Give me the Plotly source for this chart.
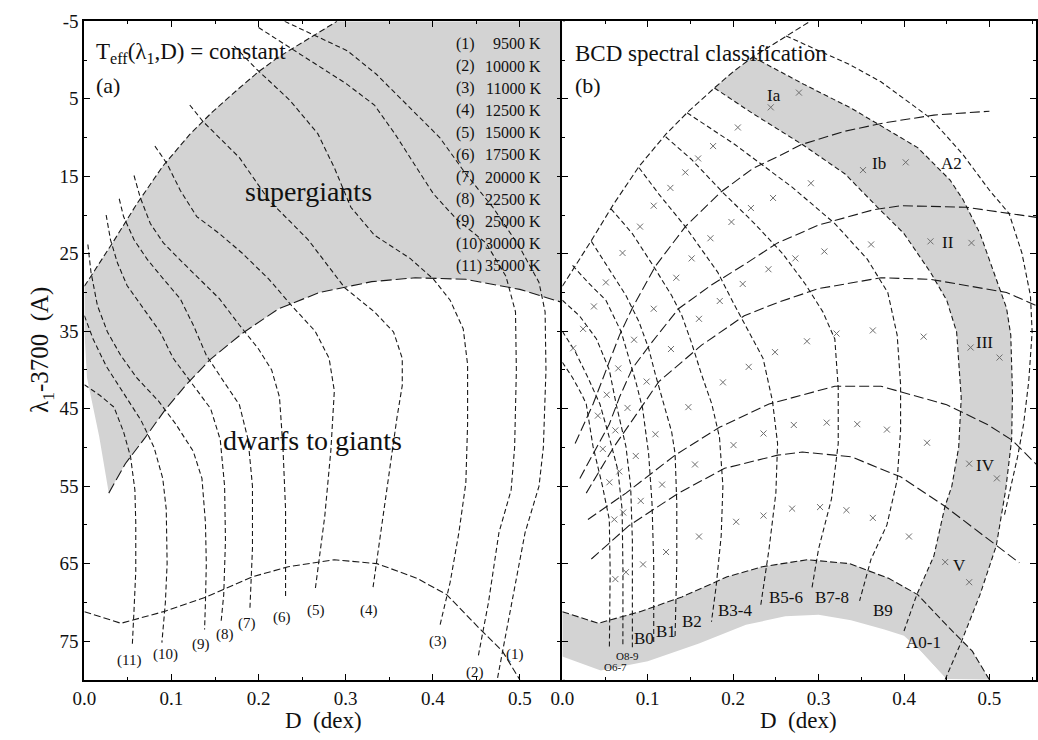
import plotly.graph_objects as go

FONT = "Liberation Serif, Times New Roman, DejaVu Serif, serif"
INK = "#1a1a1a"
GRAY_FILL = "#d3d3d3"

# ---------------- shared curves (D in dex, lambda_1-3700 in A) ----------------
ENV_D = [0.0, 0.034, 0.06, 0.09, 0.121, 0.146, 0.178, 0.2, 0.223, 0.26, 0.29]
ENV_L = [29.2, 23.3, 18.6, 13.7, 9.6, 6.8, 3.6, 1.5, -0.4, -3.0, -5.0]

ZAMS_D = [0.0, 0.042, 0.091, 0.14, 0.193, 0.234, 0.287, 0.336, 0.382, 0.416, 0.453, 0.48, 0.5]
ZAMS_L = [71.2, 72.7, 71.2, 69.3, 66.7, 65.4, 64.5, 65.0, 66.9, 69.0, 73.3, 76.3, 80.0]

# ---------------- panel (a) ----------------
SG_LOW_D = [0.028, 0.047, 0.07, 0.093, 0.117, 0.144, 0.181, 0.223, 0.27, 0.33, 0.38, 0.438, 0.5, 0.549]
SG_LOW_L = [55.9, 52.1, 48.7, 45.1, 41.9, 38.7, 35.3, 32.1, 30.0, 28.6, 28.1, 28.3, 29.6, 31.3]
SG_EDGE_D = [0.028, 0.017, 0.003, 0.0]
SG_EDGE_L = [55.9, 48.6, 41.0, 35.0]

C1_D = [0.23, 0.257, 0.302, 0.335, 0.371, 0.408, 0.438, 0.469, 0.499, 0.522, 0.529, 0.53, 0.527, 0.522, 0.506, 0.488, 0.474]
C1_L = [-5.0, -3.6, -1.2, 1.8, 5.8, 10.0, 14.7, 19.0, 24.0, 28.7, 32.5, 40.0, 50.0, 55.0, 61.0, 71.6, 80.0]
C2_D = [0.2, 0.242, 0.272, 0.3, 0.333, 0.357, 0.382, 0.401, 0.427, 0.461, 0.484, 0.495, 0.496, 0.494, 0.49, 0.476, 0.464, 0.452]
C2_L = [-4.2, -1.2, 1.0, 3.0, 5.8, 9.6, 14.0, 17.3, 20.5, 23.6, 27.9, 32.5, 40.0, 50.0, 55.5, 61.0, 70.0, 77.1]
C3_D = [0.172, 0.197, 0.236, 0.268, 0.287, 0.306, 0.333, 0.374, 0.401, 0.42, 0.435, 0.44, 0.44, 0.438, 0.43, 0.42, 0.408]
C3_L = [-1.8, 1.1, 5.2, 9.5, 13.9, 19.0, 22.6, 25.6, 28.3, 31.0, 34.7, 39.3, 47.0, 54.6, 61.0, 67.4, 73.1]
C4_D = [0.121, 0.136, 0.178, 0.212, 0.257, 0.299, 0.333, 0.355, 0.365, 0.365, 0.359, 0.348, 0.34, 0.331]
C4_L = [5.8, 7.9, 12.6, 18.1, 23.2, 29.4, 32.5, 35.1, 38.5, 42.0, 46.1, 54.6, 61.0, 68.4]
C5_D = [0.081, 0.095, 0.11, 0.129, 0.155, 0.181, 0.212, 0.238, 0.265, 0.281, 0.287, 0.283, 0.276, 0.265]
C5_L = [11.1, 13.4, 16.8, 20.2, 22.4, 24.9, 28.3, 31.7, 35.0, 38.5, 42.7, 50.4, 58.9, 68.4]
C6_D = [0.057, 0.064, 0.0757, 0.0907, 0.109, 0.132, 0.155, 0.178, 0.2, 0.215, 0.224, 0.228, 0.231, 0.231]
C6_L = [14.9, 17.7, 21.1, 23.6, 25.7, 28.3, 30.8, 34.2, 37.3, 40.0, 43.5, 50.0, 58.0, 69.3]
C7_D = [0.04, 0.045, 0.057, 0.072, 0.091, 0.11, 0.125, 0.14, 0.16, 0.178, 0.188, 0.193, 0.193, 0.19]
C7_L = [17.9, 20.2, 23.2, 25.7, 28.3, 30.8, 34.2, 38.1, 41.5, 44.5, 49.0, 55.0, 63.0, 71.0]
C8_D = [0.025, 0.03, 0.038, 0.049, 0.068, 0.087, 0.102, 0.125, 0.145, 0.156, 0.161, 0.162, 0.16, 0.157]
C8_L = [20.0, 23.2, 26.2, 29.1, 32.1, 35.1, 38.5, 42.0, 45.0, 49.0, 55.0, 62.0, 69.0, 72.5]
C9_D = [0.004, 0.0076, 0.015, 0.0265, 0.0416, 0.06, 0.085, 0.105, 0.125, 0.135, 0.139, 0.14, 0.139, 0.138]
C9_L = [23.8, 27.4, 31.7, 35.1, 38.1, 41.0, 44.0, 47.0, 50.5, 54.0, 59.7, 65.0, 70.0, 73.5]
C10_D = [0.0, 0.01, 0.025, 0.045, 0.065, 0.08, 0.09, 0.094, 0.095, 0.093, 0.089]
C10_L = [33.0, 36.0, 39.5, 43.0, 46.5, 50.0, 54.0, 58.0, 65.0, 70.0, 75.2]
C11_D = [0.0, 0.018, 0.034, 0.045, 0.053, 0.058, 0.059, 0.059, 0.057, 0.055]
C11_L = [41.9, 43.3, 44.8, 48.0, 51.2, 55.5, 59.7, 66.0, 71.0, 75.6]

TEFF_TAGS = ["(1)", "(2)", "(3)", "(4)", "(5)", "(6)", "(7)", "(8)", "(9)", "(10)", "(11)"]
TEFF_TAG_D = [0.495, 0.448, 0.406, 0.327, 0.266, 0.227, 0.187, 0.161, 0.134, 0.093, 0.051]
TEFF_TAG_L = [76.7, 79.0, 75.0, 71.0, 71.0, 72.0, 72.7, 74.2, 75.4, 76.7, 77.5]
TEFF_VALUES = ["9500 K", "10000 K", "11000 K", "12500 K", "15000 K", "17500 K",
               "20000 K", "22500 K", "25000 K", "30000 K", "35000 K"]

# ---------------- panel (b) ----------------
BAND_LOW_D = [0.0, 0.045, 0.1, 0.16, 0.215, 0.261, 0.3, 0.338, 0.377, 0.4, 0.42, 0.45]
BAND_LOW_L = [77.0, 78.8, 77.6, 75.3, 72.9, 71.8, 71.6, 72.3, 73.5, 74.3, 76.3, 79.9]

S1_D = [0.0, 0.012, 0.022, 0.028, 0.036, 0.047, 0.055, 0.056, 0.0551]
S1_L = [39.0, 41.0, 43.0, 44.4, 49.9, 55.0, 59.3, 66.0, 75.8]
S2_D = [0.0, 0.015, 0.03, 0.044, 0.055, 0.065, 0.07, 0.071, 0.0709]
S2_L = [35.0, 37.6, 41.0, 44.4, 48.7, 52.9, 58.0, 66.0, 75.8]
S3_D = [0.0, 0.02, 0.04, 0.055, 0.063, 0.0745, 0.08, 0.082, 0.082]
S3_L = [31.0, 33.0, 36.0, 40.0, 44.4, 49.9, 55.0, 62.0, 75.8]
S4_D = [0.012, 0.03, 0.051, 0.069, 0.086, 0.094, 0.101, 0.105, 0.107, 0.107]
S4_L = [26.5, 28.7, 31.0, 35.1, 41.5, 45.0, 50.8, 57.2, 65.0, 75.5]
S5_D = [0.034, 0.055, 0.0745, 0.0898, 0.101, 0.109, 0.12, 0.128, 0.132, 0.134, 0.134, 0.132]
S5_L = [23.4, 27.0, 30.4, 33.8, 37.2, 40.6, 45.0, 48.0, 50.8, 57.2, 65.0, 74.4]
S6_D = [0.057, 0.082, 0.109, 0.128, 0.14, 0.151, 0.163, 0.175, 0.184, 0.188, 0.186, 0.18, 0.1746]
S6_L = [19.2, 22.4, 27.0, 30.4, 33.0, 36.4, 40.6, 44.4, 48.7, 55.0, 61.4, 68.0, 72.5]
S7_D = [0.0898, 0.113, 0.144, 0.163, 0.182, 0.2, 0.217, 0.235, 0.246, 0.252, 0.25, 0.242, 0.232]
S7_L = [13.9, 17.3, 21.5, 24.5, 27.4, 31.3, 34.7, 38.5, 44.0, 49.5, 55.9, 63.1, 70.6]
S8_D = [0.121, 0.151, 0.188, 0.225, 0.258, 0.285, 0.305, 0.319, 0.323, 0.323, 0.315, 0.3, 0.292]
S8_L = [9.9, 12.8, 17.1, 21.1, 25.0, 29.0, 32.5, 36.0, 42.3, 49.5, 56.7, 63.1, 68.3]
S9_D = [0.146, 0.202, 0.269, 0.319, 0.357, 0.381, 0.392, 0.396, 0.396, 0.392, 0.38, 0.3615, 0.348]
S9_L = [6.8, 10.9, 16.4, 21.1, 25.7, 30.0, 35.5, 41.9, 47.8, 54.2, 60.0, 64.4, 69.8]
S10_D = [0.178, 0.223, 0.281, 0.331, 0.369, 0.4, 0.431, 0.45, 0.4616, 0.467, 0.464, 0.456, 0.448, 0.435, 0.415, 0.4]
S10_L = [3.6, 6.9, 10.9, 14.7, 19.0, 22.4, 27.4, 31.0, 35.1, 43.6, 50.0, 55.0, 57.6, 64.0, 69.0, 73.7]
S11_D = [0.223, 0.284, 0.338, 0.377, 0.416, 0.454, 0.469, 0.489, 0.508, 0.52, 0.525, 0.527, 0.526, 0.519, 0.508, 0.489, 0.4675, 0.45, 0.448]
S11_L = [-0.4, 3.2, 6.2, 8.8, 11.3, 15.5, 18.0, 22.4, 28.3, 32.0, 35.5, 43.0, 49.0, 55.5, 62.7, 69.0, 75.0, 79.7, 80.0]
A2_D = [0.262, 0.3, 0.335, 0.373, 0.431, 0.469, 0.5, 0.523, 0.538, 0.548, 0.55, 0.546, 0.54, 0.533, 0.523, 0.517]
A2_L = [-3.1, -1.2, 0.5, 2.8, 7.5, 12.2, 16.8, 19.8, 24.9, 30.4, 35.1, 41.5, 47.0, 51.2, 56.3, 59.0]

LUM1_D = [0.015, 0.036, 0.067, 0.082, 0.109, 0.144, 0.186, 0.223, 0.2515, 0.28, 0.33, 0.377, 0.435, 0.5]
LUM1_L = [49.5, 44.4, 35.5, 32.0, 26.6, 21.5, 17.0, 14.0, 12.5, 10.9, 9.2, 8.1, 7.1, 6.6]
LUM2_D = [0.0205, 0.055, 0.067, 0.082, 0.105, 0.136, 0.175, 0.213, 0.252, 0.3, 0.365, 0.397, 0.473, 0.555]
LUM2_L = [54.0, 47.0, 43.5, 39.8, 36.4, 32.1, 29.0, 26.4, 23.6, 21.3, 19.3, 18.8, 19.0, 20.3]
LUM3_D = [0.028, 0.06, 0.0976, 0.113, 0.163, 0.213, 0.252, 0.3, 0.373, 0.431, 0.52, 0.555]
LUM3_L = [55.9, 50.0, 44.0, 41.5, 36.8, 33.0, 31.3, 29.5, 28.1, 28.3, 30.0, 31.7]
LUM4_D = [0.03, 0.0745, 0.132, 0.184, 0.242, 0.319, 0.373, 0.45, 0.497, 0.527, 0.555]
LUM4_L = [59.3, 55.9, 51.0, 47.4, 44.4, 42.1, 42.1, 44.5, 47.0, 49.1, 52.2]
LUM5_D = [0.034, 0.078, 0.136, 0.19, 0.252, 0.281, 0.338, 0.396, 0.448, 0.508, 0.535]
LUM5_L = [64.4, 60.1, 55.9, 52.7, 51.0, 50.6, 51.2, 53.8, 57.6, 62.7, 64.9]

CROSS_D = [0.277, 0.244, 0.2055, 0.1765, 0.159, 0.144, 0.1265, 0.107, 0.091, 0.0705, 0.051, 0.037, 0.0243, 0.0127,
           0.352, 0.402, 0.291, 0.2467, 0.2208, 0.198, 0.1734, 0.1514, 0.1334, 0.107, 0.084,
           0.3615, 0.431, 0.479, 0.3068, 0.2728, 0.2413, 0.2112, 0.1843, 0.16, 0.1272,
           0.321, 0.2864, 0.3635, 0.423, 0.478,
           0.249, 0.5118, 0.0655, 0.052, 0.0416, 0.0763, 0.0987, 0.1476, 0.188, 0.2182,
           0.0621, 0.0474, 0.086, 0.109, 0.0667, 0.0551, 0.1168, 0.0918, 0.0609, 0.0713,
           0.1553, 0.2004, 0.2355, 0.271, 0.3095, 0.3453, 0.38, 0.427, 0.4763, 0.5087,
           0.2035, 0.2355, 0.269, 0.3017, 0.3326, 0.3635, 0.4058, 0.16, 0.1214, 0.0945,
           0.0745, 0.0621, 0.4482, 0.4763]
CROSS_L = [4.2, 6.1, 8.7, 11.1, 12.7, 14.5, 16.5, 18.8, 21.5, 24.9, 28.7, 31.8, 34.7, 37.2,
           14.2, 13.2, 15.9, 17.8, 19.1, 20.9, 23.0, 25.6, 28.1, 32.1, 36.1,
           23.8, 23.4, 23.6, 24.7, 25.6, 27.0, 28.9, 31.1, 33.4, 37.3,
           35.3, 36.3, 34.9, 35.7, 37.1,
           37.7, 38.4, 39.8, 43.2, 45.9, 44.9, 41.5, 44.8, 41.6, 39.6,
           47.8, 50.2, 51.1, 48.3, 53.1, 54.5, 54.8, 56.9, 59.3, 58.4,
           52.2, 49.7, 48.2, 47.1, 46.8, 47.0, 47.7, 49.4, 52.1, 54.0,
           59.6, 58.8, 57.9, 57.7, 58.1, 59.1, 61.5, 61.5, 63.5, 65.1,
           66.1, 67.0, 64.8, 67.4]

CLASS_TEXT = ["Ia", "Ib", "A2", "II", "III", "IV", "V", "B9", "A0-1", "B7-8", "B5-6", "B3-4", "B2", "B1", "B0"]
CLASS_D = [0.2479, 0.3711, 0.4559, 0.452, 0.4944, 0.4955, 0.4655, 0.375, 0.423, 0.3152, 0.2613, 0.2028, 0.1515, 0.1214, 0.0956]
CLASS_L = [4.6, 13.3, 13.4, 23.6, 36.4, 52.3, 65.2, 71.0, 75.2, 69.4, 69.4, 71.0, 72.5, 73.7, 74.7]
OCLASS_TEXT = ["O8-9", "O6-7"]
OCLASS_D = [0.0763, 0.0621]
OCLASS_L = [76.9, 78.4]

Y_TICKS = [-5, 5, 15, 25, 35, 45, 55, 65, 75]
Y_MINOR = [0, 10, 20, 30, 40, 50, 60, 70, 80]
X_TICKS = [0.0, 0.1, 0.2, 0.3, 0.4, 0.5]
X_MINOR = [0.05, 0.15, 0.25, 0.35, 0.45, 0.55]

W, H = 1038, 740
fig = go.Figure()


def add_line(d, l, panel, dash="5px,3px", width=1.1, color=INK):
    fig.add_trace(go.Scatter(x=d, y=l, mode="lines", xaxis="x" if panel == 1 else "x2",
                             yaxis="y" if panel == 1 else "y2",
                             line=dict(color=color, width=width, dash=dash),
                             hoverinfo="skip", showlegend=False))


def add_fill(d, l, panel):
    fig.add_trace(go.Scatter(x=d, y=l, mode="lines", fill="toself", fillcolor=GRAY_FILL,
                             line=dict(width=0, color=GRAY_FILL),
                             xaxis="x" if panel == 1 else "x2", yaxis="y" if panel == 1 else "y2",
                             hoverinfo="skip", showlegend=False))


# ---- panel (a) fill: supergiant zone
poly_d = ENV_D + [0.549, 0.549] + SG_LOW_D[::-1] + SG_EDGE_D[1:] + [ENV_D[0]]
poly_l = ENV_L + [-5.0, SG_LOW_L[-1]] + SG_LOW_L[::-1] + SG_EDGE_L[1:] + [ENV_L[0]]
add_fill(poly_d, poly_l, 1)

# ---- panel (b) fills
band_d = ZAMS_D + BAND_LOW_D[::-1]
band_l = ZAMS_L + BAND_LOW_L[::-1]
add_fill(band_d, band_l, 2)
a01_d = [0.178, 0.2] + S11_D + [0.45, 0.42] + S10_D[::-1]
a01_l = [3.6, 1.5] + S11_L + [79.9, 76.3] + S10_L[::-1]
add_fill(a01_d, a01_l, 2)

# ---- panel (a) lines
add_line(ENV_D, ENV_L, 1, dash="6px,3px")
add_line(SG_LOW_D, SG_LOW_L, 1, dash="11px,4px")
for cd, cl in [(C1_D, C1_L), (C2_D, C2_L), (C3_D, C3_L), (C4_D, C4_L), (C5_D, C5_L), (C6_D, C6_L),
               (C7_D, C7_L), (C8_D, C8_L), (C9_D, C9_L), (C10_D, C10_L), (C11_D, C11_L)]:
    add_line(cd, cl, 1, dash="5px,3px")
add_line(ZAMS_D, ZAMS_L, 1, dash="7px,3px")

# ---- panel (b) lines
add_line(ENV_D, ENV_L, 2, dash="6px,3px")
for sd, sl in [(S1_D, S1_L), (S2_D, S2_L), (S3_D, S3_L), (S4_D, S4_L), (S5_D, S5_L), (S6_D, S6_L),
               (S7_D, S7_L), (S8_D, S8_L), (S9_D, S9_L), (S10_D, S10_L), (S11_D, S11_L), (A2_D, A2_L)]:
    add_line(sd, sl, 2, dash="5px,3px")
for ld, ll in [(LUM1_D, LUM1_L), (LUM2_D, LUM2_L), (LUM3_D, LUM3_L), (LUM4_D, LUM4_L), (LUM5_D, LUM5_L)]:
    add_line(ld, ll, 2, dash="10px,4px")
add_line(ZAMS_D, ZAMS_L, 2, dash="7px,3px")

fig.add_trace(go.Scatter(x=CROSS_D, y=CROSS_L, mode="markers", xaxis="x2", yaxis="y2",
                         marker=dict(symbol="x-thin", size=6, line=dict(width=1, color="#6e6e6e")),
                         hoverinfo="skip", showlegend=False))

ann = []


def text(x, y, s, size, panel=1, xanchor="center", yanchor="middle", ref="data"):
    if ref == "data":
        ann.append(dict(x=x, y=y, text=s, showarrow=False, xref="x" if panel == 1 else "x2",
                        yref="y" if panel == 1 else "y2", xanchor=xanchor, yanchor=yanchor,
                        font=dict(family=FONT, size=size, color="#111")))
    else:
        ann.append(dict(x=x, y=y, text=s, showarrow=False, xref="paper", yref="paper",
                        xanchor=xanchor, yanchor=yanchor, font=dict(family=FONT, size=size, color="#111")))


for s, d, l in zip(TEFF_TAGS, TEFF_TAG_D, TEFF_TAG_L):
    text(d, l, s, 15, 1)
for i, (s, v) in enumerate(zip(TEFF_TAGS, TEFF_VALUES)):
    lam = -2.1 + 2.866 * i
    text(0.424, lam, s, 16, 1, xanchor="left")
    text(0.527, lam, v, 16, 1, xanchor="right")
text(0.011, -0.9, "T<sub>eff</sub>(λ<sub>1</sub>,D) = constant", 23, 1, xanchor="left")
text(0.011, 3.3, "(a)", 22, 1, xanchor="left")
text(0.257, 17.0, "supergiants", 28, 1)
text(0.2616, 49.1, "dwarfs to giants", 28, 1)

text(0.013, -0.9, "BCD spectral classification", 23, 2, xanchor="left")
text(0.013, 3.3, "(b)", 22, 2, xanchor="left")
for s, d, l in zip(CLASS_TEXT, CLASS_D, CLASS_L):
    text(d, l, s, 17, 2)
for s, d, l in zip(OCLASS_TEXT, OCLASS_D, OCLASS_L):
    text(d, l, s, 11, 2)

text(315 / W, 1 - 720 / H, "D  (dex)", 23, ref="paper")
text(796 / W, 1 - 720 / H, "D  (dex)", 23, ref="paper")
ann.append(dict(x=30 / W, y=1 - 345 / H, xref="paper", yref="paper", text="λ<sub>1</sub>-3700  (A)",
                textangle=-90, showarrow=False, xanchor="center", yanchor="middle",
                font=dict(family=FONT, size=25, color="#111")))

ydom = [1 - 679 / H, 1 - 11.5 / H]
axis_common = dict(showline=True, linecolor="black", linewidth=2, mirror="ticks", ticks="inside",
                   ticklen=6, tickwidth=1, tickcolor="black", showgrid=False, zeroline=False,
                   tickfont=dict(family=FONT, size=19, color="#111"))
fig.update_layout(
    width=W, height=H, margin=dict(l=0, r=0, t=0, b=0),
    paper_bgcolor="white", plot_bgcolor="white", showlegend=False,
    xaxis=dict(domain=[73.3 / W, 557.5 / W], range=[0, 0.549], anchor="y",
               tickvals=X_TICKS, ticktext=["%.1f" % v for v in X_TICKS],
               minor=dict(tickvals=X_MINOR, ticklen=3, ticks="inside", tickcolor="black"), **axis_common),
    yaxis=dict(domain=ydom, range=[80, -5], anchor="x", tickvals=Y_TICKS,
               ticktext=[str(v) for v in Y_TICKS],
               minor=dict(tickvals=Y_MINOR, ticklen=3, ticks="inside", tickcolor="black"), **axis_common),
    xaxis2=dict(domain=[557.3 / W, 1037.4 / W], range=[0, 0.555], anchor="y2",
                tickvals=X_TICKS, ticktext=["%.1f" % v for v in X_TICKS],
                minor=dict(tickvals=X_MINOR, ticklen=3, ticks="inside", tickcolor="black"), **axis_common),
    yaxis2=dict(domain=ydom, range=[80, -5], anchor="x2", tickvals=Y_TICKS, showticklabels=False,
                minor=dict(tickvals=Y_MINOR, ticklen=3, ticks="inside", tickcolor="black"), **axis_common),
    annotations=ann,
)

fig.write_html("out.html")
